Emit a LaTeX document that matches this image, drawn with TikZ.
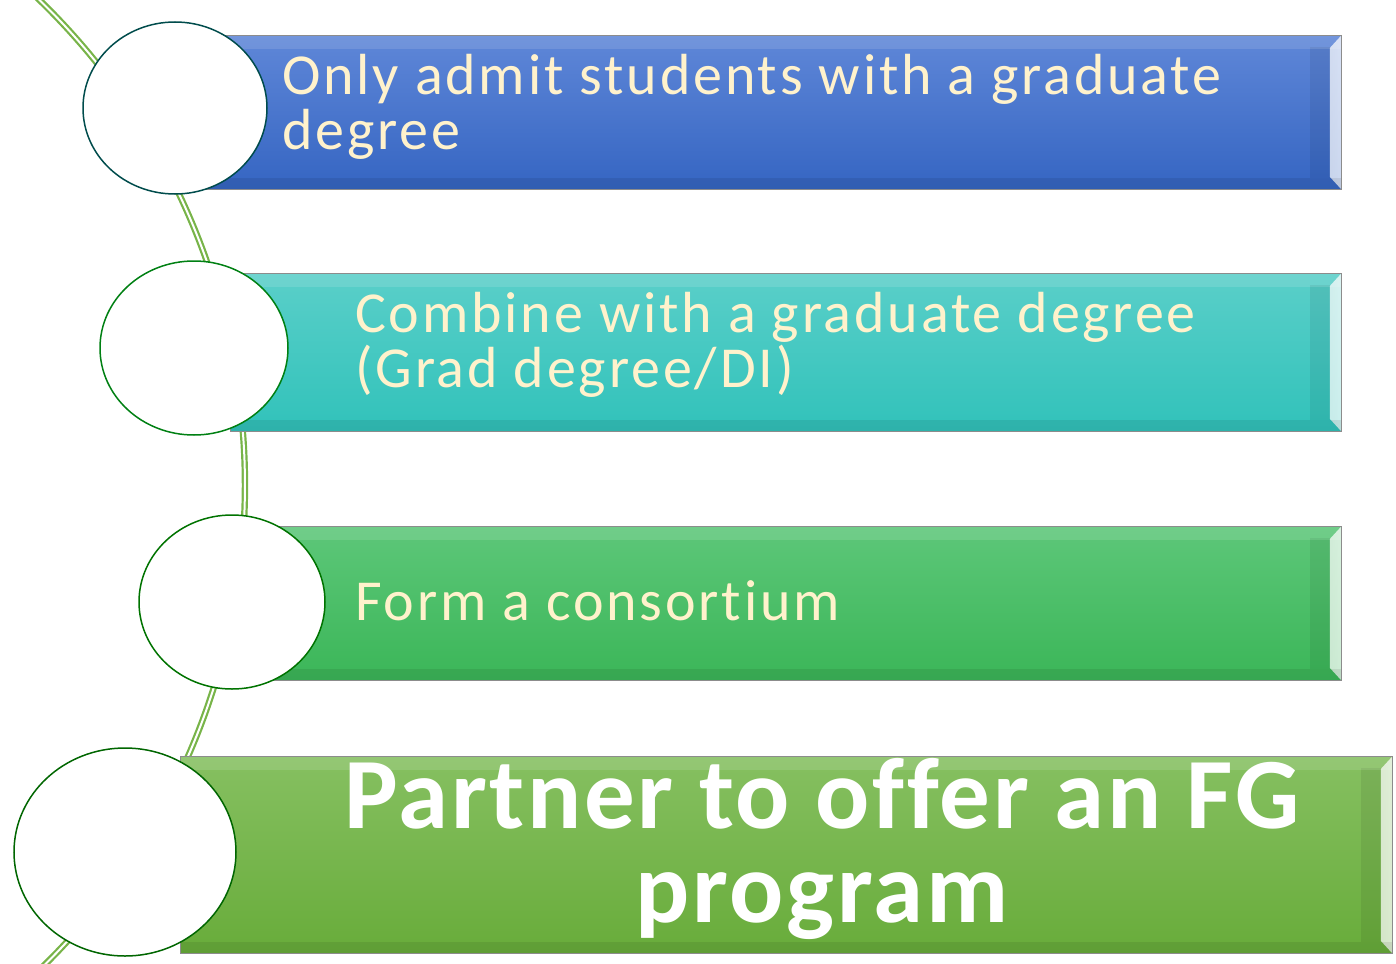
\documentclass[tikz,border=0pt]{standalone}
\usepackage{fontspec}
\setmainfont{Carlito}[Ligatures=NoCommon]
\usetikzlibrary{positioning,shapes.geometric}

\definecolor{trackgreen}{HTML}{78B449}
\definecolor{cream}{HTML}{FFF2CC}
\definecolor{blueTop}{HTML}{5F87D8}
\definecolor{blueBot}{HTML}{3565C2}
\definecolor{tealTop}{HTML}{5ACFC9}
\definecolor{tealBot}{HTML}{31C2BA}
\definecolor{midTop}{HTML}{5DC779}
\definecolor{midBot}{HTML}{3BB658}
\definecolor{leafTop}{HTML}{86C061}
\definecolor{leafBot}{HTML}{68AC3A}

% white disc with a faint grey ring near its rim
\pgfdeclareradialshading{discshade}{\pgfpoint{-3bp}{2bp}}{color(0bp)=(white); color(36bp)=(white);
  color(41bp)=(black!8); color(44bp)=(white); color(60bp)=(white)}

\tikzset{
  bar/.style={rectangle, anchor=north west, inner sep=0pt, draw=black!45, line width=0.8pt},
  disc/.style={ellipse, inner sep=0pt, shading=discshade, line width=1.5pt},
  track/.style={draw=trackgreen, double=white, line width=2.2pt, double distance=2pt},
  itemtext/.style={anchor=west, align=left, text=cream, inner sep=0pt,
    font=\addfontfeatures{LetterSpace=4.9}\fontsize{58}{55}\selectfont},
  bigtext/.style={align=center, text=white, inner sep=0pt,
    font=\bfseries\addfontfeatures{LetterSpace=2.6}\fontsize{101}{94}\selectfont}
}

\begin{document}
\begin{tikzpicture}[x=1pt,y=-1pt]
\useasboundingbox (0,0) rectangle (1396,963);
\clip (0,0) rectangle (1396,963);

% Draw the green track behind everything
\draw[track] (30.3,-8.7) arc[start angle=-47, end angle=47, radius=675];

% Draw the bars
\node[bar, minimum width=1141pt, minimum height=154pt, top color=blueTop, bottom color=blueBot] (bar1) at (200,35) {};
\node[bar, minimum width=1111pt, minimum height=158pt, top color=tealTop, bottom color=tealBot] (bar2) at (230,273) {};
\node[bar, minimum width=1071pt, minimum height=154pt, top color=midTop, bottom color=midBot] (bar3) at (270,526) {};
\node[bar, minimum width=1212pt, minimum height=197pt, top color=leafTop, bottom color=leafBot] (bar4) at (180,756) {};

% Bevel on the right end of each bar
\foreach \b in {bar1,bar2,bar3,bar4}{
  \fill[black, opacity=0.07] ([xshift=-32pt,yshift=-12pt]\b.north east) rectangle ([xshift=-12pt,yshift=12pt]\b.south east);
  \shade[left color=white!55!black!5, right color=white, opacity=0.75]
    ([xshift=-12pt,yshift=-13pt]\b.north east) -- ([xshift=-1pt,yshift=-1pt]\b.north east)
    -- ([xshift=-1pt,yshift=1pt]\b.south east) -- ([xshift=-12pt,yshift=13pt]\b.south east) -- cycle;
  \fill[white, opacity=0.12] ([shift={(1pt,-1pt)}]\b.north west) rectangle ([shift={(-1pt,-14pt)}]\b.north east);
  \fill[black, opacity=0.08] ([shift={(1pt,12pt)}]\b.south west) rectangle ([shift={(-1pt,1pt)}]\b.south east);
}

% Draw the discs
\node[disc, draw=teal!60!black, minimum width=184pt, minimum height=172pt] (disc1) at (175,108) {};
\node[disc, draw=green!50!black!85!teal, minimum width=188pt, minimum height=174pt] (disc2) at (194,348) {};
\node[disc, draw=green!45!black, minimum width=186pt, minimum height=174pt] (disc3) at (232,602) {};
\node[disc, draw=green!40!black, minimum width=222pt, minimum height=208pt] (disc4) at (125,852) {};

% Labels
\node[itemtext] (txt1) at (282,107) {Only admit students with a graduate\\degree};
\node[itemtext] (txt2) at (355,345) {Combine with a graduate degree\\(Grad degree/DI)};
\node[itemtext] (txt3) at (355,601) {Form a consortium};
\node[bigtext] (txt4) at (822,849) {Partner to offer an FG\\program};
\end{tikzpicture}
\end{document}
